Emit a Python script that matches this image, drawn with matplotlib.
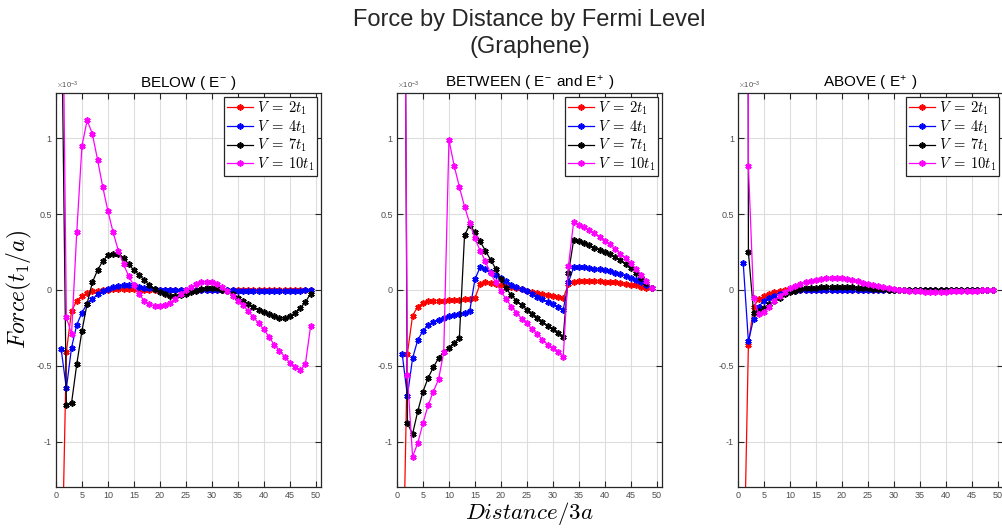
import matplotlib
matplotlib.use("Agg")
import matplotlib.pyplot as plt

plt.rcParams['font.family'] = ['Liberation Sans', 'DejaVu Sans']
plt.rcParams['mathtext.fontset'] = 'cm'
plt.rcParams['axes.unicode_minus'] = False

# distance in units of 3a
distance = list(range(1, 50))
labels = [r'$V\;=\:2t_1$', r'$V\;=\:4t_1$', r'$V\;=\:7t_1$', r'$V\;=\:10t_1$']
colors = ['#ff0000', '#0000ff', '#000000', '#ff00ff']
panel_titles = [r'BELOW ( E$^{\mathregular{-}}$ )',
                r'BETWEEN ( E$^{\mathregular{-}}$ and E$^{\mathregular{+}}$ )',
                r'ABOVE ( E$^{\mathregular{+}}$ )']

# force values, units of 1e-3 t1/a
red_below = [-2.10, -0.41, -0.14, -0.07, -0.04, -0.02, -0.01, -0.005, 0.0, 0.002,
             0.003, 0.003, 0.003, 0.003, 0.003, 0.002, 0.002, 0.001, 0.0, 0.0,
             -0.001, -0.001, -0.001, -0.001, 0.0, 0.0, 0.0, 0.001, 0.001, 0.001,
             0.0, 0.0, -0.001, -0.001, -0.001, -0.001, -0.001, -0.001, -0.001, -0.001,
             -0.001, -0.001, -0.001, -0.001, -0.001, -0.001, -0.001, -0.001, 0.0]
blue_below = [-0.39, -0.65, -0.38, -0.23, -0.15, -0.09, -0.06, -0.03, -0.01, 0.005,
              0.02, 0.025, 0.03, 0.03, 0.03, 0.02, 0.015, 0.01, 0.005, 0.0,
              -0.002, -0.003, -0.003, -0.002, -0.001, 0.0, 0.001, 0.001, 0.001, 0.0,
              0.0, -0.001, -0.002, -0.003, -0.004, -0.005, -0.005, -0.005, -0.005, -0.005,
              -0.005, -0.005, -0.005, -0.005, -0.005, -0.004, -0.004, -0.003, -0.002]
black_below = [2.1, -0.76, -0.745, -0.49, -0.27, -0.09, 0.05, 0.13, 0.19, 0.23,
               0.24, 0.235, 0.21, 0.17, 0.13, 0.10, 0.065, 0.03, 0.005, -0.015,
               -0.03, -0.04, -0.04, -0.035, -0.025, -0.015, -0.005, 0.005, 0.01, 0.012,
               0.01, 0.0, -0.01, -0.03, -0.05, -0.07, -0.09, -0.11, -0.13, -0.145,
               -0.16, -0.175, -0.185, -0.185, -0.175, -0.15, -0.12, -0.08, -0.025]
magenta_below = [3.0, -0.18, -0.29, 0.38, 0.95, 1.12, 1.03, 0.86, 0.68, 0.52,
                 0.38, 0.26, 0.17, 0.09, 0.03, -0.03, -0.07, -0.095, -0.105, -0.105,
                 -0.10, -0.085, -0.06, -0.03, 0.0, 0.02, 0.04, 0.05, 0.055, 0.05,
                 0.04, 0.02, -0.005, -0.04, -0.07, -0.10, -0.14, -0.18, -0.22, -0.26,
                 -0.31, -0.36, -0.40, -0.44, -0.48, -0.51, -0.53, -0.49, -0.24]

red_between = [-2.2, -0.42, -0.17, -0.11, -0.085, -0.075, -0.07, -0.07, -0.07, -0.068,
               -0.066, -0.065, -0.062, -0.06, -0.055, 0.04, 0.05, 0.048, 0.04, 0.033,
               0.025, 0.018, 0.01, 0.003, -0.005, -0.012, -0.02, -0.026, -0.033, -0.04,
               -0.046, -0.055, 0.04, 0.055, 0.06, 0.06, 0.06, 0.06, 0.058, 0.055,
               0.05, 0.05, 0.045, 0.04, 0.035, 0.03, 0.02, 0.015, 0.01]
blue_between = [-0.42, -0.70, -0.45, -0.33, -0.27, -0.23, -0.21, -0.195, -0.185, -0.175,
                -0.165, -0.16, -0.155, -0.14, 0.07, 0.15, 0.136, 0.12, 0.10, 0.08,
                0.06, 0.035, 0.02, 0.005, -0.01, -0.03, -0.045, -0.06, -0.08, -0.095,
                -0.11, -0.13, 0.05, 0.15, 0.15, 0.15, 0.145, 0.14, 0.135, 0.13,
                0.125, 0.115, 0.105, 0.095, 0.08, 0.065, 0.05, 0.03, 0.01]
black_between = [5.7, -0.88, -0.95, -0.80, -0.67, -0.58, -0.51, -0.45, -0.41, -0.38,
                 -0.35, -0.32, 0.36, 0.43, 0.38, 0.32, 0.26, 0.20, 0.14, 0.07,
                 0.01, -0.035, -0.07, -0.10, -0.13, -0.16, -0.185, -0.21, -0.235, -0.26,
                 -0.285, -0.31, 0.11, 0.33, 0.325, 0.31, 0.295, 0.28, 0.265, 0.25,
                 0.235, 0.215, 0.195, 0.17, 0.145, 0.115, 0.08, 0.045, 0.01]
magenta_between = [5.1, -0.56, -1.10, -1.01, -0.88, -0.76, -0.67, -0.59, -0.41, 0.99,
                   0.82, 0.68, 0.55, 0.44, 0.34, 0.26, 0.19, 0.11, 0.05, -0.01,
                   -0.06, -0.11, -0.15, -0.19, -0.22, -0.26, -0.29, -0.33, -0.36, -0.385,
                   -0.41, -0.44, 0.16, 0.45, 0.43, 0.415, 0.395, 0.375, 0.35, 0.325,
                   0.30, 0.27, 0.24, 0.21, 0.175, 0.14, 0.10, 0.06, 0.01]

red_above = [-2.1, -0.36, -0.11, -0.06, -0.04, -0.025, -0.015, -0.008, -0.003, 0.0,
             0.0, 0.001, 0.001, 0.001, 0.001, 0.001, 0.001, 0.001, 0.001, 0.001,
             0.001, 0.001, 0.0, 0.0, 0.0, 0.0, 0.0, 0.0, 0.0, 0.0,
             0.0, 0.0, 0.0, 0.0, 0.0, 0.0, 0.0, 0.0, 0.0, 0.0,
             0.0, 0.0, 0.0, 0.0, 0.0, 0.0, 0.0, 0.0, 0.0]
blue_above = [0.18, -0.34, -0.19, -0.11, -0.07, -0.055, -0.04, -0.03, -0.02, -0.01,
              -0.005, 0.0, 0.001, 0.002, 0.002, 0.002, 0.002, 0.002, 0.002, 0.002,
              0.002, 0.001, 0.001, 0.001, 0.0, 0.0, 0.0, 0.0, 0.0, 0.0,
              0.0, 0.0, 0.0, 0.0, 0.0, 0.0, 0.0, 0.0, 0.0, 0.0,
              0.0, 0.0, 0.0, 0.0, 0.0, 0.0, 0.0, 0.0, 0.0]
black_above = [30.0, 0.25, -0.15, -0.14, -0.12, -0.095, -0.07, -0.05, -0.03, -0.015,
               -0.005, 0.003, 0.01, 0.012, 0.015, 0.018, 0.02, 0.021, 0.021, 0.021,
               0.02, 0.018, 0.015, 0.013, 0.01, 0.008, 0.005, 0.003, 0.0, -0.001,
               -0.002, -0.002, -0.002, -0.002, -0.002, -0.002, -0.002, -0.002, -0.002, -0.002,
               -0.002, -0.002, -0.001, -0.001, -0.001, -0.001, -0.001, -0.001, 0.0]
magenta_above = [50.0, 0.82, -0.055, -0.16, -0.145, -0.11, -0.07, -0.04, -0.015, 0.01,
                 0.025, 0.04, 0.05, 0.06, 0.068, 0.074, 0.078, 0.08, 0.079, 0.076,
                 0.07, 0.064, 0.057, 0.049, 0.041, 0.033, 0.025, 0.017, 0.01, 0.005,
                 0.0, -0.003, -0.006, -0.008, -0.01, -0.011, -0.012, -0.012, -0.012, -0.011,
                 -0.01, -0.009, -0.008, -0.006, -0.005, -0.004, -0.003, -0.002, -0.001]

panels = [
    [red_below, blue_below, black_below, magenta_below],
    [red_between, blue_between, black_between, magenta_between],
    [red_above, blue_above, black_above, magenta_above],
]

fig = plt.figure(figsize=(10.03, 5.29), dpi=100)
lefts = [0.0558, 0.3958, 0.7358]

for i, series in enumerate(panels):
    ax = fig.add_axes([lefts[i], 0.0794, 0.2642, 0.745])
    for vals, c, lab in zip(series, colors, labels):
        ax.plot(distance, vals, '-', color=c, lw=0.9, marker=(6, 2, 0),
                ms=4.5, mew=1.2, label=lab)
    ax.set_xlim(0, 51)
    ax.set_ylim(-1.3, 1.3)
    ax.set_xticks(range(0, 51, 5))
    ax.set_yticks([-1, -0.5, 0, 0.5, 1])
    ax.set_yticklabels(['-1', '-0.5', '0', '0.5', '1'])
    ax.grid(True, color='#dddddd', lw=0.8)
    ax.set_axisbelow(True)
    ax.tick_params(direction='in', top=True, right=True, length=4, width=0.8,
                   labelsize=6.5, labelcolor='#4d4d4d', color='#262626', pad=3)
    for sp in ax.spines.values():
        sp.set_color('#262626')
        sp.set_linewidth(0.9)
    ax.set_title(panel_titles[i], fontsize=11, pad=4)
    ax.text(0.0, 1.004, r'$\times\mathregular{10^{-3}}$', transform=ax.transAxes,
            fontsize=5.5, color='#4d4d4d', va='bottom', ha='left')
    leg = ax.legend(loc='upper right', fontsize=10.5, frameon=True, fancybox=False,
                    edgecolor='#262626', framealpha=1, borderaxespad=0.25,
                    borderpad=0.2, labelspacing=0.08, handlelength=1.8,
                    handletextpad=0.25)
    leg.get_frame().set_linewidth(0.9)
    if i == 0:
        ax.set_ylabel(r'$Force(t_1/a)$', fontsize=17, labelpad=2)
    if i == 1:
        ax.set_xlabel(r'$Distance/3a$', fontsize=16.5, labelpad=0)

fig.text(0.528, 0.962, 'Force by Distance by Fermi Level', ha='center', va='center',
         fontsize=17, color='#262626')
fig.text(0.528, 0.911, '(Graphene)', ha='center', va='center',
         fontsize=17, color='#262626')

fig.savefig('out.png', dpi=100)
